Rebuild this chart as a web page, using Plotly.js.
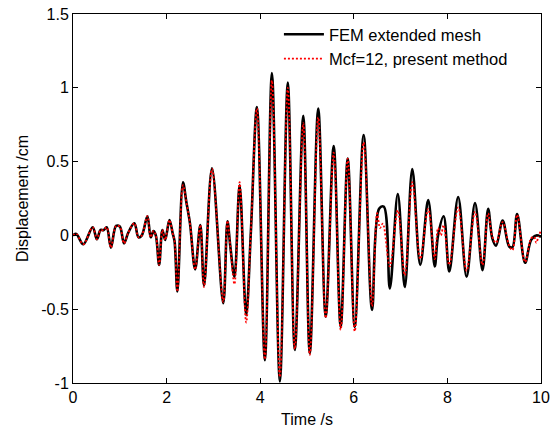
<!DOCTYPE html>
<html>
<head>
<meta charset="utf-8">
<script src="https://cdn.plot.ly/plotly-3.0.1.min.js"></script>
<style>
  html, body { margin: 0; padding: 0; background: #fff; }
  #chart { width: 556px; height: 430px; }
</style>
</head>
<body>
<div id="chart"></div>
<script>
// Time (s) and displacement (cm)
const femTime = [0,0.07,0.22,0.42,0.51,0.59,0.65,0.72,0.81,0.92,1.00,1.09,1.18,1.31,1.40,1.47,1.59,1.66,1.72,1.77,1.84,1.91,1.97,2.06,2.13,2.17,2.23,2.35,2.42,2.50,2.61,2.72,2.80,2.97,3.21,3.30,3.36,3.45,3.56,3.70,3.80,3.93,4.10,4.25,4.42,4.59,4.74,4.92,5.06,5.24,5.40,5.57,5.72,5.87,6.02,6.21,6.39,6.54,6.64,6.77,6.94,7.09,7.25,7.42,7.59,7.73,7.80,7.92,8.04,8.23,8.41,8.59,8.75,8.87,8.96,9.04,9.18,9.32,9.39,9.49,9.66,9.79,9.90,10.0];
const femDisp = [0,0.01,-0.06,0.055,-0.026,0.037,0.035,0.055,-0.083,0.064,0.06,-0.054,0.018,0.082,-0.013,0,0.13,-0.013,0.03,0,-0.2,0.037,-0.03,0.104,0.014,-0.04,-0.38,0.36,0.23,0.08,-0.23,0.07,-0.34,0.455,-0.46,0.095,-0.07,-0.28,0.34,-0.54,0.02,0.87,-0.845,1.10,-0.99,1.035,-0.776,0.81,-0.80,0.86,-0.55,0.605,-0.62,0.52,-0.62,0.68,-0.505,0.18,0.195,-0.36,0.28,-0.35,0.45,-0.20,0.24,-0.21,0.0,0.13,-0.245,0.26,-0.28,0.22,-0.235,0.18,-0.02,-0.07,0.10,-0.075,-0.08,0.145,-0.185,-0.03,0.0,-0.01];

const mcfTime = [0,0.07,0.22,0.42,0.51,0.59,0.65,0.72,0.81,0.92,1.00,1.09,1.18,1.31,1.40,1.47,1.59,1.66,1.72,1.77,1.84,1.91,1.97,2.06,2.13,2.17,2.23,2.35,2.42,2.50,2.61,2.72,2.80,2.97,3.21,3.30,3.36,3.45,3.56,3.70,3.80,3.93,4.10,4.25,4.42,4.59,4.74,4.92,5.06,5.24,5.40,5.57,5.72,5.87,6.02,6.21,6.39,6.50,6.56,6.62,6.77,6.94,7.09,7.25,7.42,7.59,7.73,7.80,7.86,7.92,8.04,8.23,8.41,8.59,8.75,8.87,8.96,9.04,9.18,9.32,9.39,9.49,9.66,9.79,9.85,9.90,9.95,10.0];
const mcfDisp = [0,0.01,-0.06,0.055,-0.026,0.037,0.035,0.055,-0.083,0.064,0.06,-0.054,0.018,0.082,-0.013,0,0.13,-0.013,0.03,0,-0.2,0.037,-0.03,0.104,0.014,-0.04,-0.38,0.34,0.23,0.08,-0.23,0.07,-0.35,0.45,-0.45,0.10,-0.07,-0.33,0.36,-0.59,0.02,0.86,-0.84,1.05,-0.96,1.0,-0.77,0.76,-0.81,0.80,-0.56,0.56,-0.64,0.52,-0.65,0.63,-0.48,0.15,0.05,0.08,-0.21,0.17,-0.27,0.36,-0.16,0.18,-0.16,0.05,0.0,0.07,-0.2,0.19,-0.24,0.16,-0.2,0.15,-0.01,-0.05,0.09,-0.07,-0.1,0.14,-0.18,-0.02,-0.01,-0.05,0.0,0.03];

const seriesNames = ['FEM extended mesh', 'Mcf=12, present method'];
const xTickVals = [0, 2, 4, 6, 8, 10];
const xTickText = ['0', '2', '4', '6', '8', '10'];
const yTickVals = [-1, -0.5, 0, 0.5, 1, 1.5];
const yTickText = ['-1', '-0.5', '0', '0.5', '1', '1.5'];
const xTitle = 'Time /s';
const yTitle = 'Displacement /cm';

const FONT = 'Liberation Sans, Arial, Helvetica, sans-serif';

const traces = [
  {
    x: femTime, y: femDisp, name: seriesNames[0], type: 'scatter', mode: 'lines',
    line: { color: '#000000', width: 2.6, shape: 'spline', smoothing: 1 }
  },
  {
    x: mcfTime, y: mcfDisp, name: seriesNames[1], type: 'scatter', mode: 'lines',
    line: { color: '#ff0000', width: 1.8, dash: '2px,2px', shape: 'spline', smoothing: 1 }
  }
];

const axisCommon = {
  showline: true, linecolor: '#000', linewidth: 1, mirror: 'ticks',
  ticks: 'inside', ticklen: 5, tickwidth: 1, tickcolor: '#000',
  showgrid: false, zeroline: false,
  tickfont: { family: FONT, size: 16, color: '#000' }
};

const layout = {
  width: 556, height: 430,
  margin: { l: 73, r: 15, t: 14, b: 47 },
  paper_bgcolor: '#fff', plot_bgcolor: '#fff',
  font: { family: FONT, size: 16, color: '#000' },
  showlegend: true,
  legend: {
    x: 0.44, y: 0.992, xanchor: 'left', yanchor: 'top',
    bgcolor: 'rgba(255,255,255,0)', borderwidth: 0,
    font: { family: FONT, size: 16.5, color: '#000' },
    itemwidth: 40
  },
  xaxis: Object.assign({}, axisCommon, {
    range: [0, 10], tickmode: 'array', tickvals: xTickVals, ticktext: xTickText,
    title: { text: xTitle, font: { family: FONT, size: 16, color: '#000' }, standoff: 8 }
  }),
  yaxis: Object.assign({}, axisCommon, {
    range: [-1, 1.5], tickmode: 'array', tickvals: yTickVals, ticktext: yTickText,
    title: { text: yTitle, font: { family: FONT, size: 16, color: '#000' }, standoff: 8 }
  })
};

Plotly.newPlot('chart', traces, layout, { displayModeBar: false, staticPlot: true });
</script>
</body>
</html>
